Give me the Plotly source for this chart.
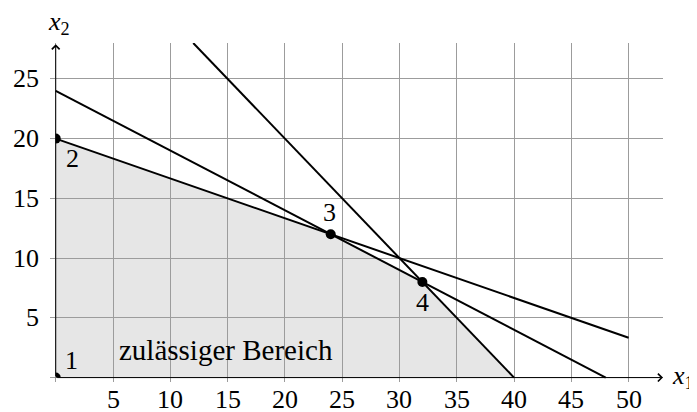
import plotly.graph_objects as go

# ---- data ----
x_ticks = [5, 10, 15, 20, 25, 30, 35, 40, 45, 50]
y_ticks = [5, 10, 15, 20, 25]

region_x = [0, 0, 24, 32, 40]          # feasible region vertices
region_y = [0, 20, 12, 8, 0]

line_a_x = [0, 48]
line_a_y = [24, 0]
line_b_x = [0, 50]
line_b_y = [20, 3.33]
line_c_x = [12, 40]
line_c_y = [28, 0]

vertex_x = [0, 0, 24, 32]
vertex_y = [0, 20, 12, 8]
vertex_labels = ["1", "2", "3", "4"]
vertex_label_x = [1.4, 1.5, 23.9, 32.0]
vertex_label_y = [1.4, 18.3, 13.8, 6.3]

region_label = "zulässiger Bereich"
region_label_x = 14.9
region_label_y = 2.3

X_RANGE = [-0.5, 53]
Y_RANGE = [-0.37, 28]
FONT = "Liberation Serif"
FS = 26

fig = go.Figure()

# feasible region (below the grid)
path = "M " + " L ".join(f"{x},{y}" for x, y in zip(region_x, region_y)) + " Z"
fig.add_shape(type="path", path=path, xref="x", yref="y",
              fillcolor="#e6e6e6", line=dict(width=0), layer="below")

for lx, ly in [(line_a_x, line_a_y), (line_b_x, line_b_y), (line_c_x, line_c_y)]:
    fig.add_trace(go.Scatter(x=lx, y=ly, mode="lines",
                             line=dict(color="black", width=2),
                             hoverinfo="skip", showlegend=False,
                             xaxis="x", yaxis="y", cliponaxis=False))

# vertices, clipped to the first quadrant
fig.add_trace(go.Scatter(x=vertex_x, y=vertex_y, mode="markers",
                         marker=dict(color="black", size=10),
                         showlegend=False, xaxis="x2", yaxis="y2",
                         cliponaxis=True))

ann = []
for t in x_ticks:
    ann.append(dict(x=t, y=0, xref="x", yref="y", text=str(t), showarrow=False,
                    yshift=-22, font=dict(family=FONT, size=FS, color="black")))
for t in y_ticks:
    ann.append(dict(x=0, y=t, xref="x", yref="y", text=str(t), showarrow=False,
                    xanchor="right", xshift=-15,
                    font=dict(family=FONT, size=FS, color="black")))
for lab, lx, ly in zip(vertex_labels, vertex_label_x, vertex_label_y):
    ann.append(dict(x=lx, y=ly, xref="x", yref="y", text=lab, showarrow=False,
                    font=dict(family=FONT, size=FS, color="black")))
ann.append(dict(x=region_label_x, y=region_label_y, xref="x", yref="y",
                text=region_label, showarrow=False,
                font=dict(family=FONT, size=29, color="black")))

# axes with arrows
ann.append(dict(x=53, y=0, ax=0, ay=0, xref="x", yref="y", axref="x", ayref="y",
                text="", showarrow=True, arrowhead=4, arrowsize=1.5,
                arrowwidth=1, arrowcolor="black", standoff=0, startstandoff=0))
ann.append(dict(x=0, y=27.9, ax=0, ay=0, xref="x", yref="y", axref="x", ayref="y",
                text="", showarrow=True, arrowhead=4, arrowsize=1.5,
                arrowwidth=1, arrowcolor="black", standoff=0, startstandoff=0))
ann.append(dict(x=53, y=0, xref="x", yref="y", text="<i>x</i><sub>1</sub>",
                showarrow=False, xanchor="left", xshift=7, yshift=1,
                font=dict(family=FONT, size=FS, color="black")))
ann.append(dict(x=0, y=28, xref="x", yref="y", text="<i>x</i><sub>2</sub>",
                showarrow=False, xshift=3, yshift=20,
                font=dict(family=FONT, size=FS, color="black")))

dx0 = (0 - X_RANGE[0]) / (X_RANGE[1] - X_RANGE[0])
dy0 = (0 - Y_RANGE[0]) / (Y_RANGE[1] - Y_RANGE[0])

# the page body has an 8px margin, so the figure is offset by 8px
fig.update_layout(
    width=689, height=404,
    margin=dict(l=42, r=34, t=35, b=30),
    paper_bgcolor="white", plot_bgcolor="rgba(0,0,0,0)",
    showlegend=False,
    annotations=ann,
    xaxis=dict(range=X_RANGE, domain=[0, 1], anchor="y", dtick=5, tick0=0,
               showgrid=True, gridcolor="#9c9c9c", gridwidth=1,
               zeroline=False, showticklabels=False, ticks="", showline=False,
               fixedrange=True),
    yaxis=dict(range=Y_RANGE, domain=[0, 1], anchor="x", dtick=5, tick0=0,
               showgrid=True, gridcolor="#9c9c9c", gridwidth=1,
               zeroline=False, showticklabels=False, ticks="", showline=False,
               fixedrange=True),
    xaxis2=dict(range=[0, X_RANGE[1]], domain=[dx0, 1], anchor="y2",
                visible=False, showgrid=False, zeroline=False),
    yaxis2=dict(range=[0, Y_RANGE[1]], domain=[dy0, 1], anchor="x2",
                visible=False, showgrid=False, zeroline=False),
)

fig.write_html("out.html")
